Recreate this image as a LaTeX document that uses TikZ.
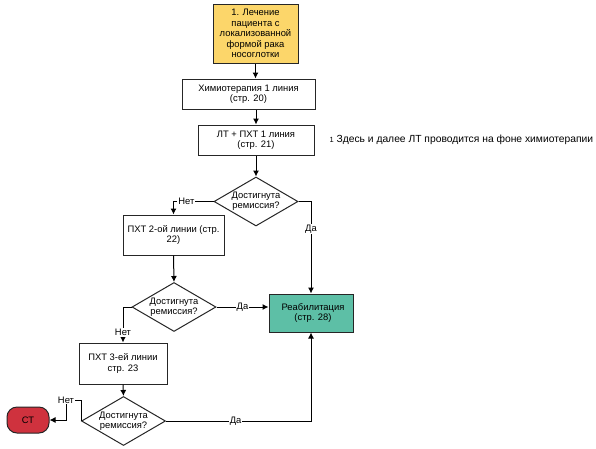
\documentclass[tikz,border=0pt]{standalone}
\usepackage{fontspec}
\setmainfont{Liberation Sans}
\usepackage{xcolor}
\usetikzlibrary{shapes.geometric, arrows.meta}

\definecolor{startyellow}{HTML}{FCD66A}
\definecolor{rehateal}{HTML}{5DBFA6}
\definecolor{stopred}{HTML}{CF323E}

\begin{document}
\begin{tikzpicture}[x=1pt, y=-1pt, font=\fontsize{9.4}{10.4}\selectfont,
  box/.style={draw=black!85, line width=1pt, fill=white, align=center,
    inner sep=0pt},
  choice/.style={draw=black!85, line width=1pt, fill=white, shape=diamond,
    aspect=1.7, inner sep=-2.5pt, minimum width=84pt, minimum height=49pt,
    align=center},
  lbl/.style={fill=white, inner sep=1pt},
  arrow/.style={line width=1pt, -{Latex[length=6pt, width=6pt]}}]

\useasboundingbox (0,0) rectangle (596,448);

%% ─── Start ──────────────────────────────────────────────────
\node[box, fill=startyellow, minimum width=85pt, minimum height=59pt]
  (start) at (255.5,33.5)
  {1. Лечение\\ пациента с\\ локализованной\\ формой рака\\ носоглотки};

%% ─── First line ─────────────────────────────────────────────
\node[box, minimum width=133pt, minimum height=30pt] (chemo) at (248.5,94)
  {Химиотерапия 1 линия\\ (стр. 20)};
\node[box, minimum width=116pt, minimum height=30pt] (ltpxt) at (256,140)
  {ЛТ + ПХТ 1 линия\\ (стр. 21)};
\node[anchor=west, font=\fontsize{10.3}{12}\selectfont] (note) at (326,140)
  {{\fontsize{7.5}{9}\selectfont 1} Здесь и далее ЛТ проводится на фоне химиотерапии};

\node[choice] (check1) at (256,201.5) {Достигнута\\ ремиссия?};

%% ─── Second line ────────────────────────────────────────────
\node[box, minimum width=101pt, minimum height=40pt] (pxt2) at (173.5,235)
  {ПХТ 2-ой линии (стр.\\ 22)};
\node[choice] (check2) at (174,307) {Достигнута\\ ремиссия?};

%% Rehabilitation
\node[box, fill=rehateal, minimum width=84pt, minimum height=38pt]
  (reha) at (311,313) {\hspace*{4pt}Реабилитация\\ \hspace*{4pt}(стр. 28)};

%% ─── Third line ─────────────────────────────────────────────
\node[box, minimum width=88pt, minimum height=41pt] (pxt3) at (123,363.5)
  {ПХТ 3-ей линии\\ стр. 23};
\node[choice] (check3) at (123.5,421) {Достигнута\\ ремиссия?};

\node[box, fill=stopred, rounded corners=10pt, minimum width=42pt,
  minimum height=26pt] (stop) at (28,420) {СТ};

%% ─── Connectors ─────────────────────────────────────────────
\draw[arrow] (start.south) -- (start.south |- chemo.north);
\draw[arrow] (ltpxt.north |- chemo.south) -- (ltpxt.north);
\draw[arrow] (ltpxt.south) -- (check1.north);

\draw[arrow] (check1.west) -| node[lbl, pos=0.34] {Нет} (pxt2.north);
\draw[arrow] (check1.east) -| node[lbl, pos=0.65] {Да} (reha.north);

\draw[arrow] (pxt2.south) -- (check2.north);
\draw[arrow] (check2.east) -- node[lbl] {Да} (check2.east -| reha.west);
\draw[arrow] (check2.west) -| node[lbl, pos=0.86] {Нет} (pxt3.north);

\draw[arrow] (pxt3.south) -- (check3.north);
\draw[arrow] (check3.east) -| node[lbl, pos=0.24] {Да} (reha.south);
\coordinate (bend3) at (66,400);
\draw[arrow] (check3.west) |- (bend3) |- (stop.east);
\node[lbl] (no3) at (bend3) {Нет};

\end{tikzpicture}
\end{document}
